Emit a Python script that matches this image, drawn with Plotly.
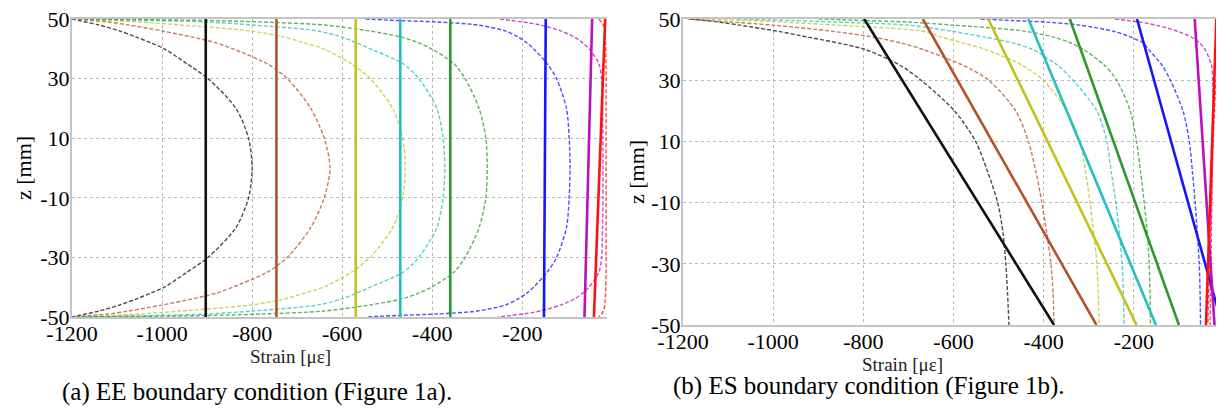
import plotly.graph_objects as go

# page body has an 8px margin, so the figure is drawn 8px smaller and shifted coordinates are used
OFF = 8
W, H = 1224 - OFF, 417 - OFF

# ---------------- Panel (a): EE boundary condition ----------------
EE_Z = [50, 49.5, 49, 48, 46, 44, 42, 40, 35, 30, 20, 10, 0,
        -10, -20, -30, -35, -40, -42, -44, -46, -48, -49, -49.5, -50]
EE_BLACK = [-1200, -1185, -1170, -1140, -1095, -1058, -1025, -995, -945, -898, -836, -808, -800,
            -808, -836, -898, -945, -995, -1025, -1058, -1095, -1140, -1170, -1185, -1200]
EE_BROWN = [-1200, -1160, -1120, -1075, -1000, -935, -880, -843, -767, -722, -670, -640, -627,
            -640, -670, -722, -767, -843, -880, -935, -1000, -1075, -1120, -1160, -1200]
EE_YELLOW = [-1200, -1120, -1050, -960, -804, -730, -685, -642, -580, -538, -488, -466, -460,
             -466, -488, -538, -580, -642, -685, -730, -804, -960, -1050, -1120, -1200]
EE_CYAN = [-1200, -1010, -900, -800, -655, -602, -568, -538, -465, -430, -390, -376, -372,
           -376, -390, -430, -465, -538, -568, -602, -655, -800, -900, -1010, -1200]
EE_GREEN = [-1200, -900, -780, -640, -540, -470, -430, -402, -352, -327, -296, -281, -278,
            -281, -296, -327, -352, -402, -430, -470, -540, -640, -780, -900, -1200]
EE_BLUE = [-548, -480, -390, -300, -238, -210, -190, -175, -145, -124, -102, -96, -94,
           -96, -102, -124, -145, -175, -190, -210, -238, -300, -390, -480, -548]
EE_MAGENTA = [-250, -225, -200, -160, -115, -85, -66, -52, -30, -24, -22, -21, -21,
              -21, -22, -24, -30, -52, -66, -85, -115, -160, -200, -225, -255]
EE_RED = [-30, -27, -24, -20, -17, -16, -15, -15, -14, -14, -14, -14, -14,
          -14, -14, -14, -14, -15, -15, -16, -17, -20, -24, -27, -30]
EE_SOLID_TOP = [-903, -746, -570, -471, -360, -148, -45, -16]
EE_SOLID_BOT = [-903, -746, -570, -471, -360, -152, -62, -41]

# ---------------- Panel (b): ES boundary condition ----------------
ES_Z = [50, 49.5, 49, 48, 46, 44, 42, 40, 35, 30, 20, 10, 0, -10, -20, -30, -40, -50]
ES_BLACK = [-1185, -1150, -1120, -1075, -990, -920, -850, -795, -720, -672, -598, -551, -524, -502, -490, -484, -480, -477]
ES_BROWN = [-1190, -1147, -1095, -1000, -870, -775, -712, -667, -581, -522, -462, -434, -417, -404, -393, -384, -379, -377]
ES_YELLOW = [-1150, -1060, -980, -860, -668, -625, -575, -528, -449, -401, -349, -320, -307, -297, -289, -282, -279, -277]
ES_CYAN = [-1080, -960, -860, -700, -603, -528, -463, -424, -370, -335, -282, -260, -250, -240, -232, -226, -223, -222]
ES_GREEN = [-900, -800, -700, -600, -441, -376, -337, -311, -266, -238, -208, -194, -185, -177, -170, -166, -164, -163]
ES_BLUE = [-540, -470, -395, -320, -245, -205, -178, -167, -138, -119, -91, -77, -70, -64, -59, -55, -53, -52]
ES_MAGENTA = [-242, -215, -188, -150, -103, -72, -53, -42, -28, -25, -24, -25, -26, -27, -28, -29, -30, -31]
ES_RED = [-10, -10, -11, -11, -12, -13, -14, -14, -16, -18, -21, -24, -26, -28, -30, -32, -34, -36]
ES_SOLID_TOP = [-798, -668, -523, -434, -342, -193, -65, -17]
ES_SOLID_BOT = [-377, -283, -194, -151, -100, -4, -21, -40]

Z_ENDS = [50, -50]
X_TICKS_A = [-1200, -1000, -800, -600, -400, -200]
X_TICKS_B = [-1200, -1000, -800, -600, -400, -200, 0]
Y_TICKS = [50, 30, 10, -10, -30, -50]

COLORS = ['#111111', '#b4532a', '#c2c21a', '#22c0c0', '#2a9a2a', '#1515ff', '#bb10bb', '#ff1010']

EE_DASHED = [EE_BLACK, EE_BROWN, EE_YELLOW, EE_CYAN, EE_GREEN, EE_BLUE, EE_MAGENTA, EE_RED]
ES_DASHED = [ES_BLACK, ES_BROWN, ES_YELLOW, ES_CYAN, ES_GREEN, ES_BLUE, ES_MAGENTA, ES_RED]

fig = go.Figure()

def add_panel(zgrid, dashed, top, bot, xa, ya):
    for xs, c in zip(dashed, COLORS):
        fig.add_trace(go.Scatter(x=xs, y=zgrid, mode='lines', xaxis=xa, yaxis=ya,
                                 line=dict(color=c, width=1.4, dash='4px,2px', shape='spline', smoothing=0.8),
                                 opacity=0.75, showlegend=False, hoverinfo='skip'))
    for t, b, c in zip(top, bot, COLORS):
        fig.add_trace(go.Scatter(x=[t, b], y=Z_ENDS, mode='lines', xaxis=xa, yaxis=ya,
                                 line=dict(color=c, width=2.6), showlegend=False, hoverinfo='skip'))

add_panel(EE_Z, EE_DASHED, EE_SOLID_TOP, EE_SOLID_BOT, 'x', 'y')
add_panel(ES_Z, ES_DASHED, ES_SOLID_TOP, ES_SOLID_BOT, 'x2', 'y2')

def px(x):
    return min(1.0, (x - OFF) / W)

def py(y):
    return 1 - (y - OFF) / H

serif = 'Liberation Serif'
tickfont = dict(family=serif, size=22, color='black')
axis_common = dict(showline=True, linecolor='#c4c4c4', linewidth=2, ticks='', zeroline=False,
                   showgrid=True, gridcolor='#b8b8b8', gridwidth=1, griddash='3px,3px',
                   tickfont=tickfont, automargin=False, ticklabeloverflow='allow',
                   ticklabelstandoff=-4)

fig.update_layout(
    width=W, height=H, autosize=False,
    margin=dict(l=0, r=0, t=0, b=0),
    paper_bgcolor='white', plot_bgcolor='white',
    font=dict(family=serif, size=22, color='black'),
    showlegend=False,
    xaxis=dict(domain=[px(72), px(607)], range=[-1200, -12], tickvals=X_TICKS_A,
               ticktext=[str(v) for v in X_TICKS_A], mirror=True, anchor='y', **axis_common),
    yaxis=dict(domain=[py(317), py(19)], range=[-50, 50], tickvals=Y_TICKS,
               ticktext=[str(v) for v in Y_TICKS], anchor='x', **axis_common),
    xaxis2=dict(domain=[px(683), 1.0], range=[-1200, 0], tickvals=X_TICKS_B,
                ticktext=[str(v) for v in X_TICKS_B], mirror=True, anchor='y2', **axis_common),
    yaxis2=dict(domain=[py(325), py(19)], range=[-50, 50], tickvals=Y_TICKS,
                ticktext=[str(v) for v in Y_TICKS], anchor='x2', **axis_common),
)

annots = [
    dict(text='z [mm]', x=px(23), y=py(168), textangle=-90, font=dict(family=serif, size=22, color='black')),
    dict(text='z [mm]', x=px(636), y=py(172), textangle=-90, font=dict(family=serif, size=22, color='black')),
    dict(text='Strain [με]', x=px(290), y=py(356), font=dict(family=serif, size=19, color='#222222')),
    dict(text='Strain [με]', x=px(902), y=py(364), font=dict(family=serif, size=19, color='#222222')),
    dict(text='(a) EE boundary condition (Figure 1a).', x=px(257), y=py(392), font=dict(family=serif, size=25, color='black')),
    dict(text='(b) ES boundary condition (Figure 1b).', x=px(869), y=py(386), font=dict(family=serif, size=25, color='black')),
]
for a in annots:
    fig.add_annotation(xref='paper', yref='paper', showarrow=False, xanchor='center', yanchor='middle', **a)

fig.write_html('out.html')
